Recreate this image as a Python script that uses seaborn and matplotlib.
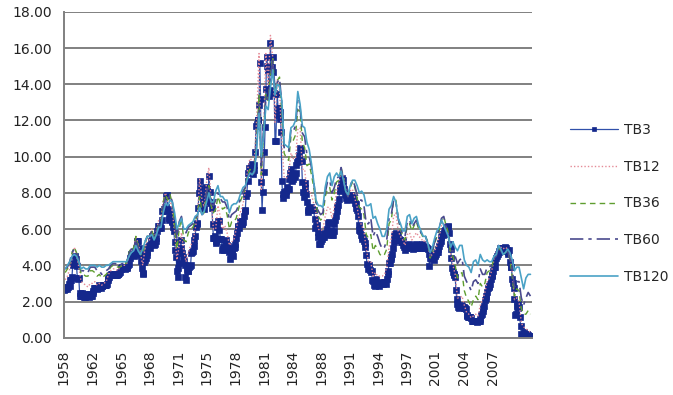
import numpy as np
import pandas as pd
import matplotlib
matplotlib.use("Agg")
import matplotlib.pyplot as plt
import seaborn as sns

# TB3: monthly readings, Oct 1958 .. Dec 2009 (percent)
tb3 = [2.63, 2.67, 2.77,
       2.82, 2.70, 2.80, 2.95, 2.84, 3.21, 3.20, 3.38, 4.04, 4.05, 4.15, 4.49,
       4.35, 3.96, 3.31, 3.23, 3.29, 2.46, 2.30, 2.30, 2.48, 2.30, 2.37, 2.25,
       2.24, 2.42, 2.39, 2.29, 2.29, 2.33, 2.24, 2.39, 2.28, 2.30, 2.48, 2.60,
       2.72, 2.73, 2.72, 2.73, 2.68, 2.73, 2.92, 2.82, 2.78, 2.74, 2.83, 2.87,
       2.91, 2.92, 2.89, 2.90, 2.92, 2.99, 3.18, 3.32, 3.38, 3.45, 3.52, 3.52,
       3.52, 3.53, 3.54, 3.47, 3.48, 3.48, 3.46, 3.50, 3.53, 3.57, 3.64, 3.84,
       3.81, 3.93, 3.93, 3.93, 3.89, 3.80, 3.84, 3.84, 3.92, 4.02, 4.08, 4.38,
       4.59, 4.65, 4.59, 4.62, 4.64, 4.50, 4.80, 4.96, 5.37, 5.35, 5.32, 4.96,
       4.72, 4.56, 4.26, 3.84, 3.60, 3.54, 4.21, 4.27, 4.42, 4.56, 4.73, 5.01,
       5.08, 4.97, 5.14, 5.36, 5.62, 5.54, 5.38, 5.10, 5.20, 5.33, 5.49, 5.92,
       6.18, 6.16, 6.08, 6.15, 6.08, 6.49, 7.00, 6.98, 7.09, 7.00, 7.24, 7.82,
       7.87, 7.13, 6.63, 6.51, 6.84, 6.68, 6.45, 6.41, 6.12, 5.91, 5.28, 4.87,
       4.44, 3.70, 3.38, 3.86, 4.14, 4.75, 5.40, 4.94, 4.69, 4.46, 4.22, 4.01,
       3.38, 3.20, 3.73, 3.71, 3.69, 3.91, 3.98, 4.02, 4.66, 4.74, 4.78, 5.07,
       5.41, 5.60, 6.09, 6.26, 6.36, 7.19, 8.01, 8.67, 8.29, 7.22, 7.83, 7.45,
       7.77, 7.12, 7.96, 8.33, 8.23, 7.90, 7.55, 8.96, 8.06, 7.46, 7.47, 7.15,
       6.26, 5.50, 5.49, 5.61, 5.23, 5.34, 6.13, 6.44, 6.42, 5.96, 5.48, 5.44,
       4.87, 4.88, 5.00, 4.86, 5.20, 5.41, 5.23, 5.14, 5.08, 4.92, 4.75, 4.35,
       4.62, 4.67, 4.60, 4.54, 4.96, 5.02, 5.19, 5.49, 5.81, 6.16, 6.10, 6.07,
       6.44, 6.45, 6.29, 6.29, 6.41, 6.73, 7.01, 7.08, 7.85, 7.99, 8.64, 9.08,
       9.35, 9.32, 9.48, 9.46, 9.61, 9.06, 9.24, 9.52, 10.26, 11.70, 11.79, 12.04,
       12.00, 12.86, 15.20, 13.20, 8.58, 7.07, 8.06, 9.13, 10.27, 11.62, 13.73, 15.49,
       15.02, 14.79, 13.36, 13.69, 16.30, 14.73, 14.95, 15.51, 14.70, 13.54, 10.86, 10.85,
       12.28, 13.48, 12.68, 12.70, 12.09, 12.47, 11.35, 8.68, 7.92, 7.71, 8.07, 7.94,
       7.86, 8.11, 8.35, 8.21, 8.19, 8.79, 9.08, 9.34, 9.00, 8.64, 8.76, 9.00,
       8.90, 9.09, 9.52, 9.69, 9.83, 9.87, 10.12, 10.47, 10.37, 9.74, 8.61, 8.06,
       7.76, 8.27, 8.52, 7.95, 7.48, 6.95, 7.08, 7.14, 7.10, 7.16, 7.24, 7.10,
       7.07, 7.06, 6.56, 6.06, 6.15, 6.21, 5.84, 5.57, 5.19, 5.18, 5.35, 5.49,
       5.45, 5.59, 5.56, 5.76, 5.75, 5.69, 5.78, 6.00, 6.32, 6.40, 5.81, 5.80,
       5.90, 5.69, 5.69, 5.92, 6.27, 6.50, 6.73, 7.02, 7.23, 7.34, 7.68, 8.09,
       8.29, 8.48, 8.83, 8.70, 8.40, 8.22, 7.92, 7.91, 7.72, 7.63, 7.65, 7.64,
       7.64, 7.74, 7.90, 7.77, 7.74, 7.73, 7.62, 7.45, 7.36, 7.17, 7.06, 6.74,
       6.22, 5.94, 5.91, 5.65, 5.46, 5.57, 5.58, 5.33, 5.22, 4.99, 4.56, 4.07,
       3.80, 3.84, 4.04, 3.75, 3.63, 3.66, 3.21, 3.13, 2.91, 2.86, 3.13, 3.22,
       3.00, 2.93, 2.95, 2.87, 2.96, 3.07, 3.04, 3.02, 2.95, 3.02, 3.10, 3.06,
       2.98, 3.25, 3.50, 3.68, 4.14, 4.14, 4.33, 4.48, 4.62, 4.95, 5.29, 5.60,
       5.71, 5.77, 5.73, 5.65, 5.67, 5.47, 5.42, 5.40, 5.28, 5.28, 5.36, 5.14,
       5.00, 4.83, 4.96, 4.95, 5.02, 5.09, 5.15, 5.05, 5.09, 4.99, 5.03, 4.91,
       5.03, 5.01, 5.14, 5.16, 5.05, 4.93, 5.05, 5.14, 4.95, 4.97, 5.14, 5.16,
       5.04, 5.09, 5.03, 4.95, 5.00, 4.98, 4.96, 4.90, 4.61, 3.96, 4.41, 4.39,
       4.34, 4.45, 4.48, 4.28, 4.51, 4.59, 4.60, 4.76, 4.73, 4.88, 5.07, 5.23,
       5.34, 5.57, 5.72, 5.67, 5.92, 5.74, 5.93, 6.11, 6.00, 6.11, 6.17, 5.77,
       5.15, 4.88, 4.42, 3.87, 3.62, 3.49, 3.51, 3.36, 2.64, 2.16, 1.87, 1.69,
       1.65, 1.73, 1.79, 1.72, 1.73, 1.70, 1.68, 1.62, 1.63, 1.58, 1.23, 1.19,
       1.17, 1.17, 1.13, 1.13, 1.07, 0.92, 0.90, 0.95, 0.94, 0.92, 0.93, 0.90,
       0.88, 0.93, 0.94, 0.94, 1.02, 1.27, 1.33, 1.48, 1.65, 1.76, 2.07, 2.19,
       2.33, 2.54, 2.74, 2.78, 2.84, 2.97, 3.22, 3.44, 3.42, 3.71, 3.88, 3.89,
       4.24, 4.43, 4.51, 4.60, 4.72, 4.79, 4.95, 4.96, 4.81, 4.92, 4.94, 4.85,
       4.98, 5.03, 4.94, 4.87, 4.73, 4.61, 4.82, 4.20, 3.89, 3.90, 3.27, 3.00,
       2.75, 2.12, 1.26, 1.29, 1.73, 1.86, 1.63, 1.72, 1.13, 0.67, 0.19, 0.03,
       0.13, 0.30, 0.22, 0.16, 0.18, 0.18, 0.18, 0.17, 0.12, 0.07, 0.05, 0.05]

# longer maturities: quarterly readings, 1958Q4 .. 2009Q4 (percent)
tb12 = [3.2,
        3.4, 3.8, 4.5, 5.0,   4.6, 3.9, 3.1, 3.0,   2.9, 2.8, 3.0, 3.0,   3.1, 2.9, 3.0, 2.9,
        3.0, 3.1, 3.5, 3.7,   3.8, 3.8, 3.7, 3.9,   4.0, 4.0, 4.1, 4.5,   4.9, 4.9, 5.6, 5.2,
        4.7, 4.0, 4.9, 5.5,   5.4, 6.0, 5.5, 5.9,   6.5, 6.6, 7.6, 8.0,   7.5, 7.6, 7.0, 5.8,
        4.3, 5.1, 5.8, 4.8,   4.2, 4.7, 5.1, 5.3,   6.0, 6.8, 8.8, 7.6,   7.2, 8.6, 9.4, 7.6,
        6.0, 6.0, 7.3, 6.7,   6.0, 6.2, 5.8, 5.1,   5.3, 5.4, 6.0, 6.6,   7.0, 7.4, 8.1, 9.3,
        9.9, 9.8, 9.8, 12.2,  15.7, 8.2, 11.5, 15.7, 14.0, 16.7, 15.5, 11.9, 14.3, 13.6, 10.8, 8.9,
        8.8, 9.1, 10.2, 9.9,  9.9, 11.5, 11.6, 9.3, 9.3, 8.1, 8.1, 7.9,   7.4, 6.9, 6.0, 5.9,
        6.0, 6.7, 7.2, 7.2,   6.6, 7.2, 8.1, 8.5,   9.3, 9.0, 8.2, 7.8,   8.1, 8.2, 7.7, 7.2,
        6.5, 6.2, 5.9, 4.9,   4.2, 4.2, 3.4, 3.6,   3.4, 3.4, 3.4, 3.5,   3.9, 5.0, 5.5, 6.7,
        6.9, 5.9, 5.6, 5.4,   5.1, 5.7, 5.8, 5.4,   5.6, 5.8, 5.6, 5.5,   5.3, 5.4, 5.2, 4.5,
        4.6, 4.8, 5.1, 5.6,   6.2, 6.3, 6.1, 5.7,   4.6, 4.0, 3.5, 2.2,   2.2, 2.3, 1.8, 1.4,
        1.3, 1.1, 1.2, 1.3,   1.2, 1.8, 2.1, 2.5,   3.1, 3.3, 3.7, 4.3,   4.7, 5.1, 5.0, 4.9,
        5.0, 4.9, 4.5, 3.6,   2.1, 2.2, 2.0, 0.8,   0.6, 0.5, 0.4, 0.3]

tb36 = [3.6,
        3.8, 4.1, 4.7, 5.0,   4.7, 4.2, 3.5, 3.5,   3.4, 3.4, 3.7, 3.7,   3.6, 3.4, 3.5, 3.3,
        3.4, 3.5, 3.7, 3.9,   4.0, 4.0, 3.9, 3.9,   4.0, 4.0, 4.2, 4.7,   5.0, 4.9, 5.6, 5.1,
        4.6, 4.6, 5.2, 5.6,   5.5, 6.0, 5.4, 5.8,   6.3, 6.4, 7.5, 7.9,   7.6, 7.9, 7.4, 6.1,
        4.9, 6.0, 6.6, 5.4,   5.3, 5.8, 6.0, 6.1,   6.4, 6.8, 7.8, 6.9,   6.9, 8.0, 8.4, 7.3,
        6.9, 7.1, 7.8, 7.4,   7.1, 7.2, 6.8, 6.0,   6.4, 6.4, 6.6, 7.1,   7.6, 7.9, 8.3, 9.0,
        9.3, 9.1, 9.2, 11.1,  13.4, 9.0, 11.3, 13.5, 13.1, 14.6, 15.5, 13.5, 14.2, 14.4, 12.5, 10.2,
        9.9, 9.8, 11.1, 10.9, 11.2, 12.6, 12.5, 10.8, 10.5, 9.5, 9.6, 9.0,  8.3, 7.4, 6.7, 6.5,
        6.6, 7.8, 8.2, 8.3,   7.6, 8.0, 8.6, 8.7,   9.4, 8.8, 8.1, 7.8,   8.3, 8.6, 8.3, 7.7,
        7.2, 7.1, 6.8, 5.7,   5.5, 5.7, 4.8, 5.1,   4.9, 4.6, 4.5, 4.6,   4.9, 6.3, 6.5, 7.6,
        7.6, 6.6, 6.0, 5.6,   5.4, 6.2, 6.3, 5.9,   6.2, 6.4, 6.0, 5.8,   5.5, 5.6, 5.3, 4.4,
        4.7, 5.2, 5.6, 5.9,   6.5, 6.7, 6.2, 5.8,   4.6, 4.5, 4.0, 3.3,   3.5, 3.6, 2.6, 2.2,
        2.0, 1.7, 2.1, 2.3,   2.1, 3.0, 2.8, 3.0,   3.6, 3.7, 3.9, 4.4,   4.6, 5.0, 4.8, 4.6,
        4.7, 4.8, 4.3, 3.4,   2.3, 2.7, 2.6, 1.6,   1.3, 1.3, 1.5, 1.3]

tb60 = [3.8,
        3.9, 4.2, 4.7, 4.9,   4.6, 4.3, 3.7, 3.7,   3.6, 3.6, 3.9, 3.9,   3.9, 3.7, 3.7, 3.5,
        3.6, 3.7, 3.8, 4.0,   4.1, 4.1, 4.0, 4.0,   4.1, 4.1, 4.2, 4.6,   4.9, 4.9, 5.4, 5.0,
        4.6, 4.8, 5.3, 5.6,   5.6, 5.9, 5.4, 5.7,   6.2, 6.3, 7.3, 7.7,   7.6, 7.9, 7.5, 6.5,
        5.5, 6.4, 6.7, 5.8,   5.8, 6.1, 6.2, 6.3,   6.6, 6.8, 7.2, 6.8,   6.9, 8.1, 8.3, 7.4,
        7.3, 7.6, 8.0, 7.7,   7.5, 7.5, 7.2, 6.5,   6.8, 6.9, 7.0, 7.3,   7.8, 8.1, 8.3, 8.9,
        9.2, 9.0, 9.1, 10.8,  12.9, 9.5, 11.5, 13.3, 13.0, 14.4, 15.3, 13.8, 14.1, 14.3, 12.9, 10.5,
        10.4, 10.3, 11.5, 11.4, 11.7, 13.1, 12.7, 11.3, 11.1, 10.1, 10.0, 9.4, 8.6, 7.5, 7.0, 6.8,
        6.9, 8.0, 8.6, 8.7,   8.0, 8.3, 8.8, 8.9,   9.4, 8.7, 8.1, 7.8,   8.4, 8.7, 8.4, 7.9,
        7.6, 7.6, 7.3, 6.3,   6.3, 6.6, 5.6, 5.9,   5.6, 5.2, 4.9, 5.0,   5.4, 6.6, 6.8, 7.6,
        7.5, 6.6, 6.1, 5.7,   5.6, 6.4, 6.5, 6.1,   6.3, 6.5, 6.1, 5.8,   5.6, 5.6, 5.2, 4.5,
        4.8, 5.3, 5.7, 6.0,   6.6, 6.7, 6.1, 5.6,   4.8, 4.8, 4.5, 4.1,   4.3, 4.4, 3.4, 3.1,
        2.9, 2.6, 3.1, 3.2,   3.0, 3.8, 3.5, 3.5,   3.9, 3.9, 4.0, 4.4,   4.5, 5.0, 4.8, 4.6,
        4.7, 4.8, 4.4, 3.8,   2.8, 3.1, 3.1, 2.2,   1.8, 2.2, 2.5, 2.3]

tb120 = [3.8,
         4.0, 4.2, 4.5, 4.6,   4.5, 4.2, 3.8, 3.9,   3.8, 3.8, 4.0, 4.0,   4.0, 3.9, 4.0, 3.9,
         3.9, 4.0, 4.0, 4.1,   4.2, 4.2, 4.2, 4.2,   4.2, 4.2, 4.2, 4.5,   4.7, 4.8, 5.1, 4.8,
         4.6, 4.9, 5.3, 5.6,   5.6, 5.7, 5.4, 5.7,   6.1, 6.1, 6.9, 7.4,   7.3, 7.6, 7.5, 6.9,
         6.0, 6.3, 6.6, 6.0,   6.0, 6.2, 6.3, 6.4,   6.7, 6.8, 7.2, 6.8,   7.0, 7.5, 8.0, 7.5,
         7.5, 8.1, 8.4, 7.8,   7.8, 7.6, 7.6, 6.9,   7.3, 7.4, 7.4, 7.6,   8.0, 8.3, 8.4, 8.8,
         9.1, 9.0, 9.2, 10.5,  12.4, 10.0, 11.2, 12.8, 12.6, 13.8, 14.8, 13.4, 14.0, 13.9, 13.1, 10.7,
         10.6, 10.5, 11.6, 11.7, 12.0, 13.6, 12.9, 11.7, 11.6, 10.8, 10.4, 9.6, 8.6, 7.6, 7.3, 7.3,
         7.2, 8.3, 8.9, 9.1,   8.4, 8.9, 9.1, 8.9,   9.2, 8.7, 8.1, 7.9,   8.4, 8.7, 8.7, 8.4,
         8.0, 8.1, 7.9, 7.3,   7.3, 7.4, 6.6, 6.7,   6.3, 6.0, 5.6, 5.6,   6.0, 7.1, 7.3, 7.8,
         7.5, 6.6, 6.3, 5.9,   5.9, 6.7, 6.8, 6.3,   6.6, 6.7, 6.2, 5.9,   5.6, 5.6, 5.2, 4.7,
         5.0, 5.5, 5.9, 6.1,   6.5, 6.2, 5.9, 5.6,   5.0, 5.3, 5.0, 4.8,   5.1, 5.1, 4.3, 4.0,
         3.9, 3.6, 4.2, 4.3,   4.0, 4.6, 4.3, 4.2,   4.3, 4.2, 4.2, 4.5,   4.6, 5.1, 4.9, 4.6,
         4.7, 4.9, 4.7, 4.3,   3.7, 3.9, 3.9, 3.3,   2.7, 3.3, 3.5, 3.5]

series_names = ["TB3", "TB12", "TB36", "TB60", "TB120"]
tick_labels = ["1958", "1962", "1965", "1968", "1971", "1975", "1978", "1981",
               "1984", "1988", "1991", "1994", "1997", "2001", "2004", "2007"]

for s in (tb12, tb36, tb60, tb120):
    assert len(s) == 205
assert len(tb3) == 615

# mid-month / mid-quarter positions as decimal years
month_pos = 1958.75 + (np.arange(len(tb3)) + 0.5) / 12
quarter_pos = 1958.75 + (np.arange(len(tb12)) + 0.5) / 4

frames = [pd.DataFrame({"year": month_pos, "rate": tb3, "series": "TB3"})]
for name, vals in zip(series_names[1:], (tb12, tb36, tb60, tb120)):
    frames.append(pd.DataFrame({"year": quarter_pos, "rate": vals, "series": name}))
long = pd.concat(frames, ignore_index=True)

styles = {
    "TB3":   dict(color="#3050aa", lw=0.9, ls="-", marker="s", ms=4.4,
                  mfc="#14288c", mec="#14288c"),
    "TB12":  dict(color="#e58b97", lw=1.0, ls=(0, (1, 1.5))),
    "TB36":  dict(color="#5f9e30", lw=1.0, ls=(0, (4, 3))),
    "TB60":  dict(color="#4a4a8e", lw=1.2, ls=(0, (8, 3, 2, 3))),
    "TB120": dict(color="#4aa2c6", lw=1.2, ls="-"),
}

sns.set_style("white")
plt.rcParams["font.family"] = ["DejaVu Sans"]

fig = plt.figure(figsize=(6.73, 3.95), dpi=100)
ax = fig.add_axes([0.095, 0.145, 0.695, 0.825])

for name in series_names:
    sub = long[long["series"] == name]
    st = styles[name]
    sns.lineplot(data=sub, x="year", y="rate", ax=ax, label=name,
                 color=st["color"], linewidth=st["lw"], linestyle=st["ls"],
                 marker=st.get("marker"), markersize=st.get("ms", 0),
                 markerfacecolor=st.get("mfc"), markeredgecolor=st.get("mec"),
                 markeredgewidth=0.5, legend=False)

x0, x1 = month_pos[0] - 0.05, month_pos[-1] + 0.05
ax.set_xlim(x0, x1)
ax.set_ylim(0, 18)
ax.set_yticks(np.arange(0, 18.1, 2))
ax.set_yticklabels([f"{v:.2f}" for v in np.arange(0, 18.1, 2)])
step = 0.0611 * (x1 - x0)
ax.set_xticks(x0 + step * np.arange(len(tick_labels)))
ax.set_xticklabels(tick_labels, rotation=90)
ax.set_xlabel("")
ax.set_ylabel("")

ax.yaxis.grid(True, color="#808080", linewidth=1.4)
ax.set_axisbelow(True)
for side in ("top", "right"):
    ax.spines[side].set_visible(False)
for side in ("left", "bottom"):
    ax.spines[side].set_color("#808080")
    ax.spines[side].set_linewidth(1.4)
ax.tick_params(axis="both", colors="#808080", length=5, width=1.2,
               labelcolor="#222222", labelsize=10, direction="out")

handles, labels = ax.get_legend_handles_labels()
fig.legend(handles, labels, loc="center left", bbox_to_anchor=(0.836, 0.485),
           frameon=False, fontsize=10, labelspacing=1.65, handlelength=3.5,
           handletextpad=0.4, borderpad=0, markerscale=0.7)

fig.savefig("out.png", dpi=100)
